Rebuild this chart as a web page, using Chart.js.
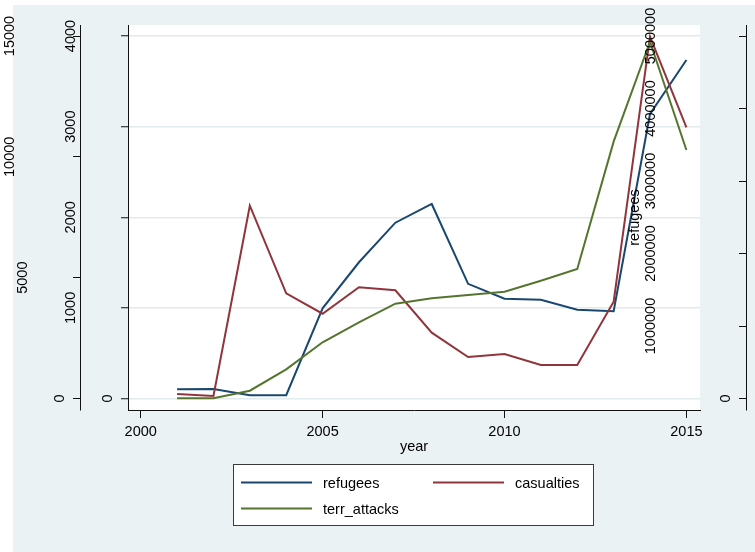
<!DOCTYPE html>
<html>
<head>
<meta charset="utf-8">
<script src="https://cdn.jsdelivr.net/npm/chart.js@4/dist/chart.umd.min.js"></script>
<style>
  html, body { margin: 0; padding: 0; background: #ffffff; }
  #wrap { width: 755px; height: 552px; }
  canvas { display: block; }
</style>
</head>
<body>
<div id="wrap"><canvas id="chart" width="755" height="552"></canvas></div>
<script>
// ---- data ----
const years = [2001, 2002, 2003, 2004, 2005, 2006, 2007, 2008, 2009, 2010, 2011, 2012, 2013, 2014, 2015];
const refugees = [127000, 131000, 44000, 45000, 1244000, 1879000, 2425000, 2683000, 1582000, 1377000, 1363000, 1225000, 1203000, 3924000, 4669000];
const casualties = [186, 103, 7978, 4353, 3509, 4601, 4477, 2723, 1717, 1841, 1386, 1386, 4006, 14971, 11222];
const terrAttacks = [2, 2, 86, 322, 620, 841, 1046, 1105, 1142, 1178, 1300, 1429, 2834, 3937, 2742];

// ---- axis tick labels ----
const yearTicks = [2000, 2005, 2010, 2015];
const attackTicks = [0, 1000, 2000, 3000, 4000];
const casualtyTicks = [0, 5000, 10000, 15000];
const refugeeTicks = [0, 1000000, 2000000, 3000000, 4000000, 5000000];

// ---- look ----
const FONT_FAMILY = "'Liberation Sans', Arial, Helvetica, sans-serif";
const FONT_SIZE = 14.5;
const NAVY = '#1A476F', MAROON = '#90353B', FOREST = '#55752F';
const REGION_BG = '#EAF2F3';
const GRID = '#E1EAEC';
const AXIS = '#111111';

// plot region geometry (px): the tick range sits inside the plot region with a small margin
const PLOT_TOP = 25, PLOT_BOTTOM = 410;
const ZERO_PX = 398.5, TOPTICK_PX = 36;

// value range of a y axis so that 0 and its largest tick land on ZERO_PX / TOPTICK_PX
function yRange(ticks) {
  const top = Math.max(...ticks);
  const span = ZERO_PX - TOPTICK_PX;
  return {
    min: -top * (PLOT_BOTTOM - ZERO_PX) / span,
    max: top * (ZERO_PX - PLOT_TOP) / span
  };
}
// x range: 2000 sits 12.7px inside the left edge, 2015 13.6px inside the right edge
const X_LEFT = 128, X_RIGHT = 700;
const pxPerYear = (X_RIGHT - X_LEFT - 12.7 - 13.6) / (yearTicks[yearTicks.length - 1] - yearTicks[0]);
const xMin = yearTicks[0] - 12.7 / pxPerYear;
const xMax = yearTicks[yearTicks.length - 1] + 13.6 / pxPerYear;

const toPoints = (vals) => years.map((yr, i) => ({ x: yr, y: vals[i] }));
const setTicks = (arr) => (scale) => { scale.ticks = arr.map(v => ({ value: v })); };
const setWidth = (w) => (scale) => { scale.width = w; };

function rotatedText(ctx, text, x, y) {
  ctx.save();
  ctx.translate(x, y);
  ctx.rotate(-Math.PI / 2);
  ctx.textAlign = 'center';
  ctx.textBaseline = 'middle';
  ctx.fillText(text, 0, 0);
  ctx.restore();
}

// background, y axis lines, rotated y labels, right-axis title and the boxed legend
const stataFrame = {
  id: 'stataFrame',
  beforeDraw(chart) {
    const { ctx, width, height, chartArea: a } = chart;
    ctx.save();
    ctx.fillStyle = '#ffffff';
    ctx.fillRect(0, 0, width, height);
    ctx.fillStyle = REGION_BG;
    ctx.fillRect(13, 5, width - 13, height - 5);
    ctx.fillStyle = '#ffffff';
    ctx.fillRect(a.left, a.top, a.right - a.left, a.bottom - a.top);
    ctx.restore();
  },
  afterDraw(chart) {
    const ctx = chart.ctx;
    const a = chart.chartArea;
    ctx.save();

    // y axis lines span the plot region height
    ctx.strokeStyle = AXIS;
    ctx.lineWidth = 1;
    for (const id of ['yA', 'yB', 'yC']) {
      const s = chart.scales[id];
      const x = (s.position === 'left' ? s.right : s.left) + 0.5;
      ctx.beginPath();
      ctx.moveTo(x, a.top);
      ctx.lineTo(x, a.bottom + 0.5);
      ctx.stroke();
    }

    ctx.fillStyle = '#000000';
    ctx.font = FONT_SIZE + 'px ' + FONT_FAMILY;

    // vertical tick labels, pushed away from the axis line by their length
    for (const id of ['yA', 'yB', 'yC']) {
      const s = chart.scales[id];
      const axisX = (s.position === 'left' ? s.right : s.left) + 0.5;
      for (const t of s.ticks) {
        const txt = String(t.value);
        const w = ctx.measureText(txt).width;
        rotatedText(ctx, txt, axisX - 7.5 - 1.56 * w, s.getPixelForValue(t.value));
      }
    }

    // title of the refugees axis
    const yc = chart.scales.yC;
    rotatedText(ctx, 'refugees', yc.left + 0.5 - 111.5, (a.top + a.bottom) / 2);

    // legend
    const box = { x: 233, y: 464, w: 361, h: 62 };
    ctx.fillStyle = '#ffffff';
    ctx.fillRect(box.x, box.y, box.w, box.h);
    ctx.strokeStyle = '#3a3a3a';
    ctx.lineWidth = 1;
    ctx.strokeRect(box.x + 0.5, box.y + 0.5, box.w - 1, box.h - 1);
    const slots = [
      { x: 241, y: 482.5 },
      { x: 433, y: 482.5 },
      { x: 241, y: 508.5 }
    ];
    chart.data.datasets.forEach((ds, i) => {
      const p = slots[i];
      ctx.strokeStyle = ds.borderColor;
      ctx.lineWidth = 2;
      ctx.beginPath();
      ctx.moveTo(p.x, p.y);
      ctx.lineTo(p.x + 71, p.y);
      ctx.stroke();
      ctx.fillStyle = '#000000';
      ctx.textAlign = 'left';
      ctx.textBaseline = 'middle';
      ctx.fillText(ds.label, p.x + 82, p.y + 1.5);
    });
    ctx.restore();
  }
};

const tickFont = { family: FONT_FAMILY, size: FONT_SIZE };
const rA = yRange(attackTicks), rB = yRange(casualtyTicks), rC = yRange(refugeeTicks);

new Chart(document.getElementById('chart'), {
  type: 'line',
  data: {
    datasets: [
      { label: 'refugees', data: toPoints(refugees), yAxisID: 'yC', borderColor: NAVY, order: 3 },
      { label: 'casualties', data: toPoints(casualties), yAxisID: 'yB', borderColor: MAROON, order: 2 },
      { label: 'terr_attacks', data: toPoints(terrAttacks), yAxisID: 'yA', borderColor: FOREST, order: 1 }
    ]
  },
  options: {
    responsive: false,
    devicePixelRatio: 1,
    animation: false,
    layout: { padding: { left: 0, right: 0, top: PLOT_TOP, bottom: 94 } },
    elements: {
      line: { borderWidth: 2, tension: 0, fill: false },
      point: { radius: 0, hoverRadius: 0 }
    },
    plugins: { legend: { display: false }, tooltip: { enabled: false } },
    scales: {
      x: {
        type: 'linear',
        position: 'bottom',
        min: xMin,
        max: xMax,
        afterBuildTicks: setTicks(yearTicks),
        afterFit: (s) => { s.height = 48; },
        border: { display: true, color: AXIS, width: 1 },
        grid: { drawOnChartArea: false, drawTicks: true, tickLength: 8, tickColor: AXIS, tickWidth: 1 },
        ticks: { color: '#000000', font: tickFont, padding: 5, maxRotation: 0, callback: (v) => String(v) },
        title: { display: true, text: 'year', color: '#000000', font: tickFont, padding: { top: 0, bottom: 2 } }
      },
      yB: {
        type: 'linear',
        position: 'left',
        weight: 1,
        min: rB.min,
        max: rB.max,
        afterBuildTicks: setTicks(casualtyTicks),
        afterFit: setWidth(80),
        border: { display: false },
        grid: { drawOnChartArea: false, drawTicks: true, tickLength: 7, tickColor: AXIS },
        ticks: { display: false }
      },
      yA: {
        type: 'linear',
        position: 'left',
        weight: 0,
        min: rA.min,
        max: rA.max,
        afterBuildTicks: setTicks(attackTicks),
        afterFit: setWidth(48),
        border: { display: false },
        grid: { drawOnChartArea: true, color: GRID, lineWidth: 1.5, drawTicks: true, tickLength: 7, tickColor: AXIS, tickWidth: 1 },
        ticks: { display: false }
      },
      ySpacer: {
        type: 'linear',
        position: 'right',
        weight: 0,
        min: 0,
        max: 1,
        afterFit: setWidth(46),
        border: { display: false },
        grid: { display: false },
        ticks: { display: false }
      },
      yC: {
        type: 'linear',
        position: 'right',
        weight: 1,
        min: rC.min,
        max: rC.max,
        afterBuildTicks: setTicks(refugeeTicks),
        afterFit: setWidth(9),
        border: { display: false },
        grid: { drawOnChartArea: false, drawTicks: true, tickLength: -7, tickColor: AXIS },
        ticks: { display: false }
      }
    }
  },
  plugins: [stataFrame]
});
</script>
</body>
</html>
